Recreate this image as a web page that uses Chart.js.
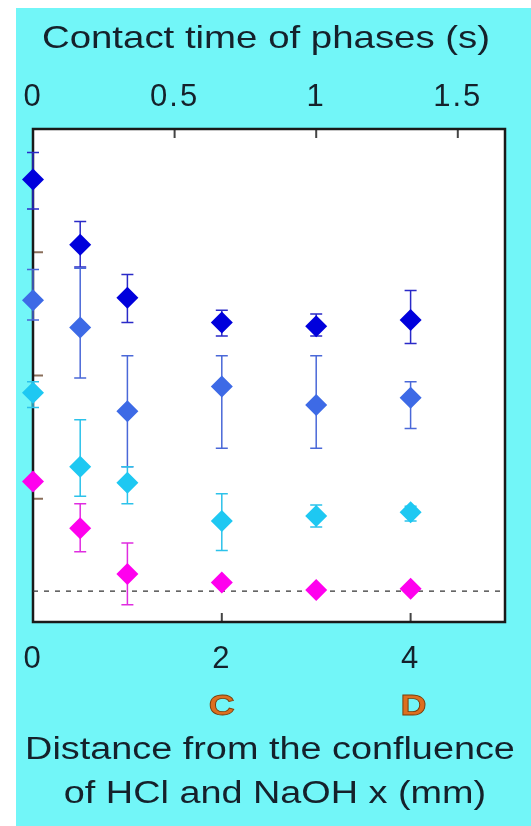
<!DOCTYPE html>
<html lang="en">
<head>
    <meta charset="UTF-8">
    <title>Contact time of phases</title>
    <script src="https://cdn.jsdelivr.net/npm/chart.js"></script>
    <style>
        html, body { margin: 0; padding: 0; background: #fff; overflow: hidden; }
        .panel {
            position: absolute;
            left: 16px; top: 8px;
            width: 515px; height: 818px;
            background: #72f6f8;
        }
        #chart { position: absolute; left: 0; top: 0; }
    </style>
</head>
<body>
    <div class="panel"></div>
    <canvas id="chart" width="531" height="826"></canvas>

    <script>
        // distance from the confluence x (mm)
        const distance = [0, 0.5, 1, 2, 3, 4];

        // series values (arbitrary units, no y labels in the original)
        const darkBlue     = [3.59, 3.06, 2.63, 2.43, 2.40, 2.45];
        const darkBlueLo   = [3.35, 2.88, 2.43, 2.32, 2.32, 2.26];
        const darkBlueHi   = [3.81, 3.25, 2.82, 2.53, 2.50, 2.69];

        const midBlue      = [2.61, 2.39, 1.71, 1.91, 1.76, 1.82];
        const midBlueLo    = [2.45, 1.98, 1.26, 1.41, 1.41, 1.57];
        const midBlueHi    = [2.86, 2.87, 2.16, 2.16, 2.16, 1.95];

        const cyan         = [1.86, 1.26, 1.13, 0.82, 0.86, 0.89];
        const cyanLo       = [1.74, 1.02, 0.96, 0.58, 0.77, 0.82];
        const cyanHi       = [1.95, 1.64, 1.26, 1.04, 0.95, 0.94];

        const magenta      = [1.14, 0.76, 0.39, 0.32, 0.26, 0.27];
        const magentaLo    = [null, 0.57, 0.14, null, null, null];
        const magentaHi    = [null, 0.96, 0.64, null, null, null];

        const baseline = 0.25;

        // axes
        const bottomTicks = [0, 2, 4];
        const bottomTickLabels = ['0', '2', '4'];
        const topTicks = [0, 0.5, 1, 1.5];
        const topTickLabels = ['0', '0.5', '1', '1.5'];
        const yTicks = [1, 2, 3];
        const markTicks = [2, 4];
        const markLabels = ['C', 'D'];
        const topTitle = 'Contact time of phases (s)';
        const bottomTitle = ['Distance from the confluence', 'of HCl and NaOH x (mm)'];

        const pts = (ys) => distance.map((x, i) => ({ x: x, y: ys[i] }));

        const series = [
            { data: darkBlue, lo: darkBlueLo, hi: darkBlueHi, color: '#0000dc', bar: '#2a2ac8' },
            { data: midBlue,  lo: midBlueLo,  hi: midBlueHi,  color: '#3d6ae6', bar: '#4a68d8' },
            { data: cyan,     lo: cyanLo,     hi: cyanHi,     color: '#1ec8f2', bar: '#2cc2ea' },
            { data: magenta,  lo: magentaLo,  hi: magentaHi,  color: '#ff00ee', bar: '#e02ce0' }
        ];

        function stretchText(ctx, text, x, y, font, color, sx, stroke) {
            ctx.save();
            ctx.translate(x, y);
            ctx.scale(sx, 1);
            ctx.letterSpacing = '0px';
            ctx.font = font;
            ctx.textAlign = 'center';
            ctx.textBaseline = 'middle';
            ctx.fillStyle = color;
            ctx.fillText(text, 0, 0);
            if (stroke) {
                ctx.lineWidth = 0.8;
                ctx.strokeStyle = stroke;
                ctx.strokeText(text, 0, 0);
            }
            ctx.restore();
        }

        const framePlugin = {
            id: 'frame',
            beforeDraw(chart) {
                const { ctx, chartArea: a } = chart;
                ctx.save();
                ctx.fillStyle = '#ffffff';
                ctx.fillRect(a.left, a.top, a.right - a.left, a.bottom - a.top);
                ctx.restore();
                ctx.letterSpacing = '2px';
            },
            beforeDatasetsDraw(chart) {
                const { ctx, chartArea: a } = chart;
                const xs = chart.scales.x, xt = chart.scales.x2, ys = chart.scales.y;
                ctx.save();
                // inner tick marks
                ctx.lineWidth = 2;
                ctx.strokeStyle = '#8a6e5a';
                yTicks.forEach(v => {
                    const py = ys.getPixelForValue(v);
                    ctx.beginPath(); ctx.moveTo(a.left, py); ctx.lineTo(a.left + 10, py); ctx.stroke();
                });
                ctx.strokeStyle = '#444';
                topTicks.forEach(v => {
                    const px = xt.getPixelForValue(v);
                    ctx.beginPath(); ctx.moveTo(px, a.top); ctx.lineTo(px, a.top + 9); ctx.stroke();
                });
                bottomTicks.forEach(v => {
                    const px = xs.getPixelForValue(v);
                    ctx.beginPath(); ctx.moveTo(px, a.bottom); ctx.lineTo(px, a.bottom - 9); ctx.stroke();
                });
                // frame
                ctx.lineWidth = 2.5;
                ctx.strokeStyle = '#1a1a1a';
                ctx.strokeRect(a.left, a.top, a.right - a.left, a.bottom - a.top);

                // error bars
                ctx.lineWidth = 1.5;
                series.forEach(s => {
                    ctx.strokeStyle = s.bar;
                    distance.forEach((d, i) => {
                        if (s.lo[i] == null) return;
                        const px = xs.getPixelForValue(d);
                        const y1 = ys.getPixelForValue(s.lo[i]);
                        const y2 = ys.getPixelForValue(s.hi[i]);
                        ctx.beginPath();
                        ctx.moveTo(px, y1); ctx.lineTo(px, y2);
                        ctx.moveTo(px - 6, y1); ctx.lineTo(px + 6, y1);
                        ctx.moveTo(px - 6, y2); ctx.lineTo(px + 6, y2);
                        ctx.stroke();
                    });
                });
                ctx.restore();
            },
            afterDraw(chart) {
                const ctx = chart.ctx;
                const xs = chart.scales.x;
                // titles and the C / D markers
                stretchText(ctx, topTitle, 266, 39, '32px "Liberation Sans"', '#15212b', 1.2);
                stretchText(ctx, bottomTitle[0], 270, 750, '31px "Liberation Sans"', '#15212b', 1.22);
                stretchText(ctx, bottomTitle[1], 275, 794, '31px "Liberation Sans"', '#15212b', 1.22);
                markTicks.forEach((v, i) => {
                    stretchText(ctx, markLabels[i], xs.getPixelForValue(v) + i * 3, 707,
                        'bold 30px "Liberation Sans"', '#dd6f1f', 1.2, '#7a3c08');
                });
            }
        };

        const datasets = series.map((s, i) => ({
            type: 'scatter',
            data: pts(s.data),
            pointStyle: 'rectRot',
            pointRadius: 11,
            pointHoverRadius: 11,
            borderWidth: 0,
            backgroundColor: s.color,
            borderColor: s.color,
            clip: false,
            order: i
        }));
        datasets.push({
            type: 'line',
            data: [{ x: 0, y: baseline }, { x: 5, y: baseline }],
            borderColor: '#333',
            borderWidth: 1.3,
            borderDash: [5, 6],
            pointRadius: 0,
            order: 10
        });

        const tickFont = { family: 'Liberation Sans', size: 31, lineHeight: 1 };

        new Chart(document.getElementById('chart'), {
            type: 'scatter',
            data: { datasets: datasets },
            options: {
                responsive: false,
                animation: false,
                events: [],
                layout: { padding: { left: 33, right: 26, top: 69, bottom: 144 } },
                plugins: { legend: { display: false }, tooltip: { enabled: false } },
                scales: {
                    x: {
                        type: 'linear', position: 'bottom', min: 0, max: 5,
                        grid: { display: false, drawTicks: false },
                        border: { display: false },
                        afterBuildTicks: s => { s.ticks = bottomTicks.map(v => ({ value: v })); },
                        afterFit: s => { s.height = 60; },
                        ticks: {
                            padding: 22, color: '#15212b', font: tickFont,
                            maxRotation: 0, autoSkip: false,
                            callback: (v, i) => bottomTickLabels[i]
                        }
                    },
                    x2: {
                        type: 'linear', position: 'top', min: 0, max: 5 / 3,
                        grid: { display: false, drawTicks: false },
                        border: { display: false },
                        afterBuildTicks: s => { s.ticks = topTicks.map(v => ({ value: v })); },
                        afterFit: s => { s.height = 60; },
                        ticks: {
                            padding: 16, color: '#15212b', font: tickFont,
                            maxRotation: 0, autoSkip: false,
                            callback: (v, i) => topTickLabels[i]
                        }
                    },
                    y: { type: 'linear', min: 0, max: 4, display: false }
                }
            },
            plugins: [framePlugin]
        });
    </script>
</body>
</html>
